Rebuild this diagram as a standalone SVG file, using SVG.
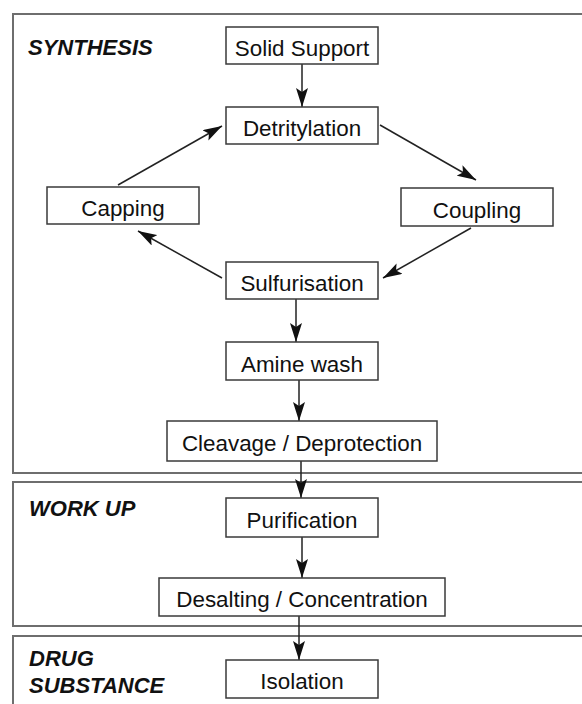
<svg xmlns="http://www.w3.org/2000/svg" width="582" height="704" viewBox="0 0 582 704">
<style>
.sec{fill:none;stroke:#6e6e6e;stroke-width:2}
.box{fill:#fff;stroke:#3a3a3a;stroke-width:1.5}
.t{font-family:"Liberation Sans",Arial,sans-serif;font-size:22.4px;fill:#111;text-anchor:middle}
.lbl{font-family:"Liberation Sans",Arial,sans-serif;font-size:22px;font-weight:bold;font-style:italic;fill:#111}
.c{stroke:#222;stroke-width:1.5;fill:none;marker-end:url(#ah)}
</style>
<defs>
<marker id="ah" markerWidth="20" markerHeight="12" refX="19" refY="6" orient="auto" markerUnits="userSpaceOnUse">
<path d="M0,0 L19,6 L0,12 L4,6 Z" fill="#111"/>
</marker>
</defs>
<g id="sections">
<rect class="sec" x="13" y="14" width="580" height="459"/>
<rect class="sec" x="13" y="482" width="580" height="144"/>
<rect class="sec" x="13" y="636" width="580" height="80"/>
<text class="lbl" x="28" y="55">SYNTHESIS</text>
<text class="lbl" x="29" y="516">WORK UP</text>
<text class="lbl" x="29" y="666">DRUG</text>
<text class="lbl" x="29" y="693">SUBSTANCE</text>
</g>
<g id="connectors">
<line class="c" x1="302" y1="64" x2="302" y2="107"/>
<line class="c" x1="380" y1="125" x2="476" y2="180"/>
<line class="c" x1="471" y1="228" x2="383" y2="278"/>
<line class="c" x1="222" y1="278" x2="138" y2="231"/>
<line class="c" x1="118" y1="185" x2="222" y2="126"/>
<line class="c" x1="296" y1="299" x2="296" y2="342"/>
<line class="c" x1="299" y1="380" x2="299" y2="421"/>
<line class="c" x1="301" y1="461" x2="301" y2="498"/>
<line class="c" x1="302" y1="537" x2="302" y2="578"/>
<line class="c" x1="299" y1="616" x2="299" y2="660"/>
</g>
<g id="solid-support"><rect class="box" x="226" y="27" width="152" height="37"/><text class="t" x="302" y="56">Solid Support</text></g>
<g id="detritylation"><rect class="box" x="226" y="107" width="152" height="37"/><text class="t" x="302" y="136">Detritylation</text></g>
<g id="capping"><rect class="box" x="47" y="187" width="152" height="37"/><text class="t" x="123" y="216">Capping</text></g>
<g id="coupling"><rect class="box" x="401" y="188" width="152" height="38"/><text class="t" x="477" y="217.5">Coupling</text></g>
<g id="sulfurisation"><rect class="box" x="226" y="262" width="152" height="37"/><text class="t" x="302" y="291">Sulfurisation</text></g>
<g id="amine-wash"><rect class="box" x="226" y="342" width="152" height="38"/><text class="t" x="302" y="371.5">Amine wash</text></g>
<g id="cleavage"><rect class="box" x="167" y="421" width="270" height="40"/><text class="t" x="302" y="451">Cleavage / Deprotection</text></g>
<g id="purification"><rect class="box" x="226" y="498" width="152" height="39"/><text class="t" x="302" y="527.5">Purification</text></g>
<g id="desalting"><rect class="box" x="159" y="578" width="286" height="38"/><text class="t" x="302" y="607">Desalting / Concentration</text></g>
<g id="isolation"><rect class="box" x="226" y="660" width="152" height="38"/><text class="t" x="302" y="689">Isolation</text></g>
</svg>
